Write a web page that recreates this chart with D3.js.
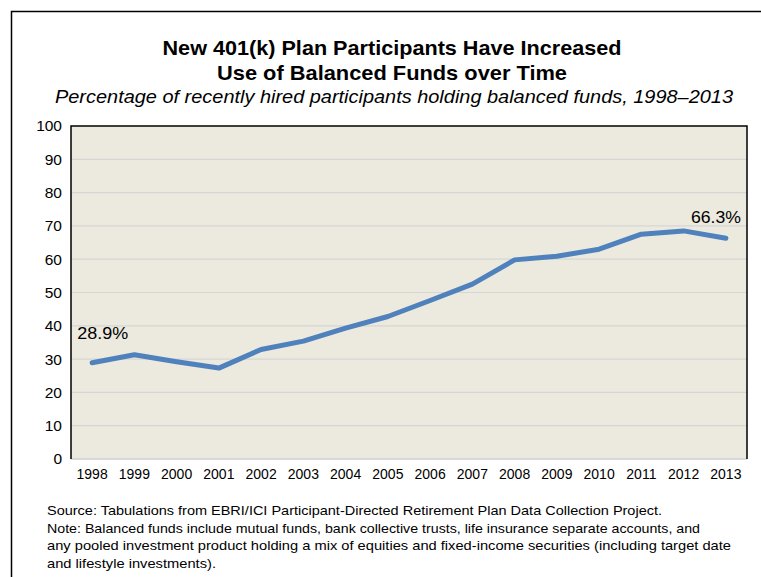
<!DOCTYPE html>
<html><head><meta charset="utf-8">
<script src="https://cdn.jsdelivr.net/npm/d3@7"></script>
<style>body{margin:0;background:#fff}svg{display:block;font-family:"Liberation Sans",Arial,sans-serif}</style>
</head><body><svg id="c" width="761" height="577"></svg>
<script>
const years = ["1998","1999","2000","2001","2002","2003","2004","2005","2006","2007","2008","2009","2010","2011","2012","2013"];
const values = [28.9,31.3,29.2,27.3,32.9,35.4,39.3,42.8,47.6,52.5,59.8,60.9,63.0,67.5,68.5,66.3];
const yTicks = [0,10,20,30,40,50,60,70,80,90,100];
const titleLines = ["New 401(k) Plan Participants Have Increased","Use of Balanced Funds over Time"];
const subtitle = "Percentage of recently hired participants holding balanced funds, 1998\u20132013";
const notes = ["Source: Tabulations from EBRI/ICI Participant-Directed Retirement Plan Data Collection Project.",
"Note: Balanced funds include mutual funds, bank collective trusts, life insurance separate accounts, and",
"any pooled investment product holding a mix of equities and fixed-income securities (including target date",
"and lifestyle investments)."];

const svg = d3.select("#c");
const m = {l:71, r:747, t:126, b:459};

svg.append("rect").attr("x",11.5).attr("y",11.5).attr("width",770).attr("height",600)
  .attr("fill","none").attr("stroke","#000").attr("stroke-width",1.5);

function fitText(sel, w){ sel.attr("textLength", w).attr("lengthAdjust","spacingAndGlyphs"); }

const tw = [459, 350];
titleLines.forEach((t,i)=>{
  const e = svg.append("text").attr("x",392).attr("y",55+i*25).attr("text-anchor","middle")
    .attr("font-size",21).attr("font-weight","bold").attr("fill","#000").text(t);
  fitText(e, tw[i]);
});
fitText(svg.append("text").attr("x",394).attr("y",103).attr("text-anchor","middle")
  .attr("font-size",18).attr("font-style","italic").attr("fill","#000").text(subtitle), 678);

const x = d3.scaleBand().domain(years).range([m.l,m.r]);
const y = d3.scaleLinear().domain([0,100]).range([m.b,m.t]);

svg.append("rect").attr("x",m.l).attr("y",m.t).attr("width",m.r-m.l).attr("height",m.b-m.t).attr("fill","#ece9df");

svg.append("g").selectAll("line").data(yTicks.filter(d=>d>0&&d<100)).join("line")
  .attr("x1",m.l).attr("x2",m.r).attr("y1",d=>y(d)).attr("y2",d=>y(d))
  .attr("stroke","#d6d6d6").attr("stroke-width",1.2);
svg.append("line").attr("x1",m.l).attr("x2",m.r).attr("y1",m.b).attr("y2",m.b).attr("stroke","#d0d0d0").attr("stroke-width",1.5);
svg.append("path").attr("d",`M${m.l},${m.b}V${m.t}H${m.r}V${m.b}`).attr("fill","none").attr("stroke","#000").attr("stroke-width",1.5);

const ya = svg.append("g").attr("transform",`translate(${m.l-9},0)`)
  .call(d3.axisLeft(y).tickValues(yTicks).tickSize(0).tickPadding(0));
ya.select(".domain").remove();
ya.selectAll("text").attr("font-size",15.5).attr("font-family","Liberation Sans, Arial").attr("fill","#000");

const xa = svg.append("g").attr("transform",`translate(0,${m.b+10})`)
  .call(d3.axisBottom(x).tickSize(0).tickPadding(0));
xa.select(".domain").remove();
xa.selectAll("text").attr("font-size",14).attr("dy","0.71em").attr("font-family","Liberation Sans, Arial").attr("fill","#000");

const line = d3.line().x((d,i)=>x(years[i])+x.bandwidth()/2).y(d=>y(d));
svg.append("path").datum(values).attr("d",line).attr("fill","none")
  .attr("stroke","#4f81bd").attr("stroke-width",5).attr("stroke-linejoin","round").attr("stroke-linecap","round");

const cx = i => x(years[i])+x.bandwidth()/2;
fitText(svg.append("text").attr("x",cx(0)-15).attr("y",y(values[0])-24).attr("font-size",17).attr("fill","#000")
  .text(values[0].toFixed(1)+"%"), 51);
fitText(svg.append("text").attr("x",cx(15)+15).attr("y",y(values[15])-15.5).attr("text-anchor","end").attr("font-size",17).attr("fill","#000")
  .text(values[15].toFixed(1)+"%"), 50);

const nw = [615, 653, 684, 169];
notes.forEach((t,i)=>{
  const e = svg.append("text").attr("x",47).attr("y",515+i*17.5).attr("font-size",13.5).attr("fill","#000").text(t);
  fitText(e, nw[i]);
});
</script></body></html>
